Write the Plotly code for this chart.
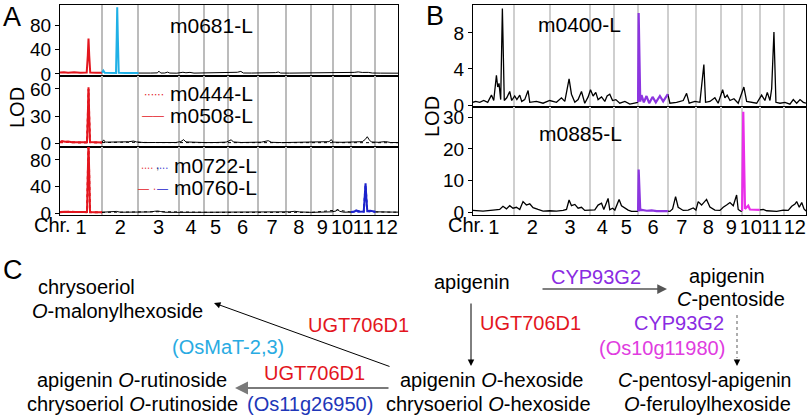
import plotly.graph_objects as go

W, H = 807, 420

# ---------------- data ----------------
chrom_names = ['1', '2', '3', '4', '5', '6', '7', '8', '9', '10', '11', '12']
chrom_len = [41.7, 36.2, 40.0, 24.6, 23.8, 30.0, 28.2, 25.0, 21.6, 17.7, 24.2, 22.5]

# panel A, m0681-L
m0681_pos = [0, 4, 8, 14, 20, 26.5, 27.6, 28.3, 29.0, 30.0, 36, 41.7,
             43.0, 44.5, 50, 55.6, 56.3, 56.8, 57.4, 58.3, 65, 72, 77.9,
             84, 90, 96.5, 98.3, 100, 104, 106.7, 109, 116, 122, 125, 129, 133, 140, 150,
             158, 164, 168, 172, 176, 179.5, 182, 190, 200, 208, 214, 216.7, 219, 228,
             238, 248, 256, 262, 270, 278, 284, 292, 296, 300, 306, 310, 318, 326, 335.5]
m0681_lod = [2.5, 3.0, 2.2, 2.8, 2.0, 2.2, 30, 58, 30, 2.5, 2.0, 2.0,
             5.5, 2.0, 1.5, 1.8, 60, 109, 60, 2.0, 1.5, 1.5, 1.5,
             1.2, 1.5, 1.8, 4.5, 1.5, 1.6, 3.0, 1.5, 1.3, 2.8, 2.0, 2.6, 1.4, 1.5, 1.3,
             1.7, 2.2, 2.6, 2.0, 2.8, 4.2, 1.6, 1.5, 1.4, 1.8, 2.2, 3.2, 1.5, 1.4,
             1.6, 1.3, 1.8, 1.5, 1.4, 2.0, 1.5, 2.6, 3.4, 2.5, 2.6, 1.6, 1.4, 1.5, 1.3]

# panel A, m0508-L and m0444-L
m0508_pos = [0, 2, 5, 8, 12, 20, 26.8, 27.6, 28.3, 29.0, 29.8, 35, 41.7,
             43.3, 45, 52, 60, 68, 73, 76, 84, 95, 105, 115, 120, 122.7, 125, 135,
             145, 155, 165, 170, 172, 180, 190, 200, 206.7, 210, 220, 230, 240, 250,
             262, 267, 269.3, 271, 280, 290, 300, 303, 305, 307, 309, 316, 323, 328, 335.5]
m0508_lod = [1.0, 2.2, 1.5, 1.8, 0.8, 0.6, 0.8, 30, 62, 30, 1.0, 0.8, 0.6,
             3.5, 1.0, 0.8, 1.2, 1.4, 2.2, 1.2, 0.5, 0.6, 0.8, 0.6, 1.6, 3.8, 1.2, 0.7,
             0.5, 0.6, 1.0, 3.6, 1.2, 0.6, 0.5, 1.0, 2.6, 0.8, 0.5, 0.6, 0.4, 0.6,
             0.8, 1.5, 3.8, 1.0, 0.8, 0.9, 1.5, 4.0, 7.0, 3.5, 1.2, 0.8, 1.6, 0.6, 0.5]
m0444_pos = [0, 8, 20, 26.8, 27.6, 28.3, 29.0, 29.8, 41.7, 60, 100, 150, 200, 250, 300, 335.5]
m0444_lod = [0.8, 1.2, 0.5, 0.7, 28, 60, 28, 0.8, 0.5, 0.9, 0.5, 0.6, 0.8, 0.5, 1.0, 0.4]

# panel A, m0760-L and m0722-L
m0760_pos = [0, 5, 12, 20, 26.8, 27.6, 28.3, 29.0, 29.8, 35, 41.7,
             50, 56, 60, 70, 80, 90, 94, 97, 100, 104, 115, 125, 135, 145, 160, 175,
             185, 200, 215, 228, 233, 238, 250, 262, 270, 274, 275.7, 277.5, 282, 288.8,
             292, 294, 296, 301.5, 302.6, 303.3, 304, 305, 308, 310, 313,
             318, 324, 330, 335.5]
m0760_lod = [1.5, 2.0, 1.5, 1.2, 1.5, 60, 108, 60, 1.5, 1.2, 1.2,
             1.3, 2.4, 1.2, 1.0, 1.5, 1.6, 2.6, 3.0, 2.2, 1.2, 1.0, 1.4, 1.0, 1.1, 1.3, 1.5,
             1.2, 1.0, 1.3, 1.8, 2.6, 1.6, 1.0, 1.2, 1.8, 3.0, 5.5, 2.5, 1.2, 1.5,
             2.0, 4.0, 2.0, 2.2, 25, 45, 25, 3.0, 3.5, 2.5, 1.8,
             1.4, 2.0, 1.4, 1.3]
m0722_pos = [0, 10, 26.8, 27.6, 28.3, 29.0, 29.8, 41.7, 100, 150, 200, 250, 275.7, 288.8,
             294, 301.5, 303.3, 305, 313, 335.5]
m0722_lod = [1.2, 1.8, 1.3, 55, 104, 55, 1.3, 1.0, 2.0, 1.0, 1.2, 1.0, 4.5, 1.3,
             3.5, 2.0, 42, 2.5, 1.6, 1.2]

# panel B, m0400-L
m0400_pos = [0, 2.7, 6.8, 10.8, 14.8, 18.6, 20.9, 23.6, 24.9, 26.2, 27.9, 29.6, 31.5, 34,
             37, 39, 42, 44.2, 47.1, 49.1, 52.1, 55.5, 57.2, 63.9, 70.6, 77.3, 84.1, 89.1,
             92.5, 96.8, 99.2, 102.6, 105.9, 109.3, 112.6, 116, 118.4, 121, 123.7, 126,
             129.5, 132.8, 135.1, 137.8, 140.6, 143.9, 147.9, 153, 158, 164, 166.3,
             166.9, 168.5, 169.8, 172.1, 174.8, 177.5, 180.9, 184.2, 188.3, 191.6, 196.3,
             198.4, 205.1, 211.8, 215.2, 217.8, 223.6, 228.6, 232.6, 234.3, 238.7, 243.7,
             247, 251.5, 253.8, 256.1, 258.9, 262.9, 267.2, 272.9, 275.7, 280.7, 285.8,
             290.8, 294.1, 296.5, 299.2, 300.9, 303.2, 305.2, 309.3, 314.3, 319.3, 322.7,
             326.1, 329.5, 332.8, 335.5]
m0400_lod = [0.3, 0.4, 0.3, 0.5, 0.3, 1.1, 0.5, 3.3, 2.0, 2.4, 0.6, 10.7, 0.5, 0.8,
             1.5, 0.5, 1.0, 0.6, 1.1, 0.4, 0.6, 1.6, 0.3, 0.4, 0.2, 0.5, 0.3, 0.8,
             0.4, 2.9, 1.2, 0.3, 0.6, 1.5, 0.2, 0.9, 1.7, 1.0, 1.4, 0.6,
             0.9, 0.4, 1.0, 1.2, 0.5, 0.6, 0.2, 0.4, 0.1, 0.2, 0.3,
             10.2, 0.4, 1.1, 0.3, 1.0, 0.2, 0.9, 0.3, 1.0, 0.4, 1.2,
             0.2, 0.3, 0.5, 1.3, 0.2, 0.4, 0.3, 4.5, 0.3, 0.4, 0.8,
             0.2, 1.7, 0.8, 1.1, 0.5, 0.7, 0.2, 2.0, 0.4, 0.3, 0.2,
             1.1, 0.5, 1.4, 0.5, 1.8, 8.1, 0.3, 0.2, 0.3, 0.1, 0.6,
             0.2, 0.6, 0.3, 0.2]

# panel B, m0885-L
m0885_pos = [0, 10.1, 20.2, 26.9, 30.2, 33.7, 37, 40.3, 43.8, 47.1, 50.4, 53.8, 57.2,
             60.5, 65.5, 70.6, 77.3, 84.1, 90.8, 94.2, 96.8, 99.2, 102.6, 105.9, 109.3,
             112.6, 117.7, 122.7, 126, 129.5, 131.8, 136.1, 137.8, 140.6, 142.9, 147.2,
             149.6, 153, 156.3, 159.7, 164, 166.3, 166.9, 168.5, 170, 175, 180, 185, 190,
             196.3, 198.4, 201.1, 204.1, 206.7, 211.8, 216.8, 221.9, 224.6, 226.9, 230.3,
             232.6, 235.3, 238.7, 243.7, 248.8, 252.1, 255.5, 258.9, 262.2, 265.6, 267.2,
             269.6, 271.1, 272.3, 274.0, 277.3, 279, 282.3, 288.8, 292.4, 295.9, 299.2,
             306, 312.6, 317.6, 321.1, 324.4, 326.1, 328.7, 331.2, 333.5, 335.5]
m0885_lod = [0.5, 0.3, 0.6, 0.8, 1.8, 1.0, 2.0, 1.2, 1.5, 0.8, 3.3, 2.2, 2.6,
             1.4, 0.8, 0.3, 0.4, 0.3, 0.5, 0.8, 3.8, 2.0, 2.4, 1.2, 1.5,
             0.5, 0.6, 0.7, 2.2, 2.8, 0.8, 4.3, 0.7, 1.2, 0.6, 4.0,
             2.0, 1.2, 0.6, 0.2, 0.2, 0.2, 13.5, 0.6, 0.7, 0.4, 0.5, 0.3, 0.4,
             0.3, 0.2, 1.0, 4.9, 1.5, 0.5, 0.6, 1.3, 0.6, 3.3, 2.2,
             3.0, 4.0, 1.6, 0.6, 0.5, 1.5, 2.2, 3.0, 2.0, 5.4, 0.8,
             0.3, 0.3, 31.8, 1.0, 2.0, 0.8, 0.8, 0.7, 0.8, 0.4, 0.3,
             0.2, 0.6, 0.5, 1.8, 2.5, 3.3, 1.5, 3.0, 1.0, 0.3]

# ---------------- helpers ----------------
bounds = [0.0]
for L in chrom_len:
    bounds.append(bounds[-1] + L)
mids = [(bounds[i] + bounds[i + 1]) / 2 for i in range(len(chrom_len))]
total = bounds[-1]

RED = '#e3161e'
CYAN = '#1fb0e6'
NAVY = '#1c22cc'
PURPLE = '#8c35e0'
MAGENTA = '#e92ee9'
FONT = 'Arial, Liberation Sans, sans-serif'


def X(p):
    return p / W


def Y(p):
    return 1 - p / H


def seg(pos, lod, lo, hi):
    pts = [(p, v) for p, v in zip(pos, lod) if lo - 0.05 <= p <= hi + 0.05]
    return [a for a, _ in pts], [b for _, b in pts]


fig = go.Figure()


def add_line(pos, lod, lo, hi, color, width, dash, ax):
    xs, ys = seg(pos, lod, lo, hi)
    fig.add_trace(go.Scatter(x=xs, y=ys, mode='lines', showlegend=False,
                             line=dict(color=color, width=width, dash=dash),
                             xaxis='x' + ax, yaxis='y' + ax, hoverinfo='skip'))


B = bounds
# A1
add_line(m0681_pos, m0681_lod, B[2], B[12], 'black', 1.0, 'solid', '')
add_line(m0681_pos, m0681_lod, B[0], B[1], RED, 2, 'solid', '')
add_line(m0681_pos, m0681_lod, B[1], B[2], CYAN, 2, 'solid', '')
# A2
add_line(m0444_pos, m0444_lod, B[1], B[12], 'black', 1.0, 'dot', '2')
add_line(m0508_pos, m0508_lod, B[1], B[12], 'black', 1.0, 'solid', '2')
add_line(m0444_pos, m0444_lod, B[0], B[1], RED, 2, 'dot', '2')
add_line(m0508_pos, m0508_lod, B[0], B[1], RED, 2, 'solid', '2')
# A3
add_line(m0722_pos, m0722_lod, B[1], B[10], 'black', 1.0, 'dot', '3')
add_line(m0722_pos, m0722_lod, B[11], B[12], 'black', 1.0, 'dot', '3')
add_line(m0760_pos, m0760_lod, B[1], B[10], 'black', 1.0, 'solid', '3')
add_line(m0760_pos, m0760_lod, B[11], B[12], 'black', 1.0, 'solid', '3')
add_line(m0722_pos, m0722_lod, B[0], B[1], RED, 2, 'dot', '3')
add_line(m0760_pos, m0760_lod, B[0], B[1], RED, 2, 'solid', '3')
add_line(m0722_pos, m0722_lod, B[10], B[11], NAVY, 2, 'dot', '3')
add_line(m0760_pos, m0760_lod, B[10], B[11], NAVY, 2, 'solid', '3')
# B1
add_line(m0400_pos, m0400_lod, B[0], B[5], 'black', 1.3, 'solid', '4')
add_line(m0400_pos, m0400_lod, B[6], B[12], 'black', 1.3, 'solid', '4')
add_line(m0400_pos, m0400_lod, B[5], B[6], PURPLE, 2.2, 'solid', '4')
# B2
add_line(m0885_pos, m0885_lod, B[0], B[5], 'black', 1.3, 'solid', '5')
add_line(m0885_pos, m0885_lod, B[6], B[9], 'black', 1.3, 'solid', '5')
add_line(m0885_pos, m0885_lod, B[10], B[12], 'black', 1.3, 'solid', '5')
add_line(m0885_pos, m0885_lod, B[5], B[6], PURPLE, 2.2, 'solid', '5')
add_line(m0885_pos, m0885_lod, B[9], B[10], MAGENTA, 2.2, 'solid', '5')


def xaxis(dom, show, anchor, grid):
    return dict(domain=dom, range=[0, total], anchor=anchor, showline=True, mirror=True,
                linecolor='black', linewidth=1.2, showgrid=False, zeroline=False,
                tickmode='array', tickvals=mids, ticktext=chrom_names, ticks='',
                tickangle=0, showticklabels=show, tickfont=dict(size=20, color='black'),
                ticklabelstandoff=-6, automargin=False,
                minor=dict(tickmode='array', tickvals=bounds[1:-1], showgrid=True,
                           gridcolor=grid, gridwidth=1.5, ticks=''))


def yaxis(dom, rng, ticks, anchor):
    return dict(domain=dom, range=rng, anchor=anchor, showline=True, mirror=True,
                linecolor='black', linewidth=1.2, showgrid=False, zeroline=False,
                tickmode='array', tickvals=ticks, ticks='outside', ticklen=4,
                tickcolor='black', tickfont=dict(size=19, color='black'), automargin=False)


ax_l, ax_r = X(60), X(398)
bx_l, bx_r = X(473), X(806)
GA, GB = '#bcbcbc', '#cfcfcf'

fig.update_layout(
    width=W, height=H, margin=dict(l=0, r=0, t=0, b=0, autoexpand=False),
    plot_bgcolor='white', paper_bgcolor='white', showlegend=False,
    font=dict(family=FONT, size=20, color='black'),
    xaxis=xaxis([ax_l, ax_r], False, 'y', GA),
    yaxis=yaxis([Y(76), Y(5)], [-3.3, 112.7], [0, 40, 80], 'x'),
    xaxis2=xaxis([ax_l, ax_r], False, 'y2', GA),
    yaxis2=yaxis([Y(147), Y(76)], [-4.4, 74.4], [0, 30, 60], 'x2'),
    xaxis3=xaxis([ax_l, ax_r], True, 'y3', GA),
    yaxis3=yaxis([Y(215), Y(147)], [-3.0, 99.6], [0, 40, 80], 'x3'),
    xaxis4=xaxis([bx_l, bx_r], False, 'y4', GB),
    yaxis4=yaxis([Y(107), Y(5)], [-0.22, 11.1], [0, 4, 8], 'x4'),
    xaxis5=xaxis([bx_l, bx_r], True, 'y5', GB),
    yaxis5=yaxis([Y(215), Y(107)], [-0.95, 33.3], [0, 10, 20, 30], 'x5'),
)


def txt(s, x, y, size=20, color='black', angle=0, xanchor='center'):
    fig.add_annotation(text=s, x=X(x), y=Y(y), xref='paper', yref='paper',
                       showarrow=False, xanchor=xanchor, yanchor='middle',
                       textangle=angle, font=dict(size=size, color=color, family=FONT))


# panel letters and axis labels
txt('A', 1, 17, size=27, xanchor='left')
txt('B', 435, 16, size=27)
txt('C', 1, 270, size=27, xanchor='left')
txt('LOD', 17, 108, angle=-90)
txt('LOD', 432, 116, angle=-90)
txt('Chr.', 73, 225, xanchor='right')
txt('Chr.', 487, 225, xanchor='right')

# trait labels
txt('m0681-L', 212, 25, size=21)
txt('m0400-L', 579, 24, size=21)
txt('m0885-L', 580, 133, size=21)

# legends inside panel A (line samples drawn as glyphs)
DOTS = '\u2219\u2219\u2219\u2219'
txt(DOTS + '\u2219\u2219', 166, 94, size=12, color=RED, xanchor='right')
txt('m0444-L', 168, 93, size=21, xanchor='left')
txt('\u2014\u2014', 166, 115, size=11, color=RED, xanchor='right')
txt('m0508-L', 168, 115, size=21, xanchor='left')
txt(DOTS, 155, 167, size=11, color=RED, xanchor='right')
txt(',', 157, 165, size=12, color='#555555')
txt(DOTS, 170, 167, size=11, color=NAVY, xanchor='right')
txt('m0722-L', 172, 166, size=21, xanchor='left')
txt('\u2014', 151, 188, size=11, color=RED, xanchor='right')
txt('\u2219', 154, 188, size=11, color=RED)
txt('\u2014', 170, 188, size=11, color=NAVY, xanchor='right')
txt('m0760-L', 172, 188, size=21, xanchor='left')

# ---------------- panel C ----------------
C_RED = '#e3161e'
C_CYAN = '#29abe2'
C_BLUE = '#2036b8'
C_PURPLE = '#8a2be2'
C_MAG = '#e03ce0'

txt('chrysoeriol', 86, 287)
txt('<i>O</i>-malonylhexoside', 117, 311)
txt('UGT706D1', 358, 325, color=C_RED)
txt('(OsMaT-2,3)', 228, 347, color=C_CYAN)
txt('apigenin <i>O</i>-rutinoside', 132, 380)
txt('chrysoeriol <i>O</i>-rutinoside', 132, 404)
txt('UGT706D1', 314, 373, color=C_RED)
txt('(Os11g26950)', 310, 404, color=C_BLUE)
txt('apigenin <i>O</i>-hexoside', 491, 380)
txt('chrysoeriol <i>O</i>-hexoside', 488, 404)
txt('UGT706D1', 530, 323, color=C_RED)
txt('apigenin', 472, 282)
txt('CYP93G2', 596, 277, color=C_PURPLE)
txt('apigenin', 727, 276)
txt('<i>C</i>-pentoside', 731, 299)
txt('CYP93G2', 679, 323, color=C_PURPLE)
txt('(Os10g11980)', 662, 348, color=C_MAG)
txt('<i>C</i>-pentosyl-apigenin', 704, 380, size=19.5)
txt('<i>O</i>-feruloylhexoside', 707, 404)


def arrow(tip, tail, color='black', width=1.0):
    fig.add_annotation(x=X(tip[0]), y=Y(tip[1]), xref='paper', yref='paper', text='',
                       showarrow=True, ax=tail[0] - tip[0], ay=tail[1] - tip[1],
                       arrowhead=2, arrowsize=1.3, arrowwidth=width, arrowcolor=color)


arrow((214, 303), (391, 367))
arrow((235, 388), (390, 388), color='#7a7a7a', width=2)
arrow((471, 366), (471, 302))
arrow((667, 289), (541, 289), color='#555555', width=1.5)
fig.add_shape(type='line', xref='paper', yref='paper', x0=X(737), y0=Y(315), x1=X(737), y1=Y(358),
              line=dict(color='#777777', width=1.2, dash='dot'))
arrow((737, 366), (737, 358))

fig.write_html("out.html", config={'displayModeBar': False},
               post_script="document.body.style.margin='0px';")
